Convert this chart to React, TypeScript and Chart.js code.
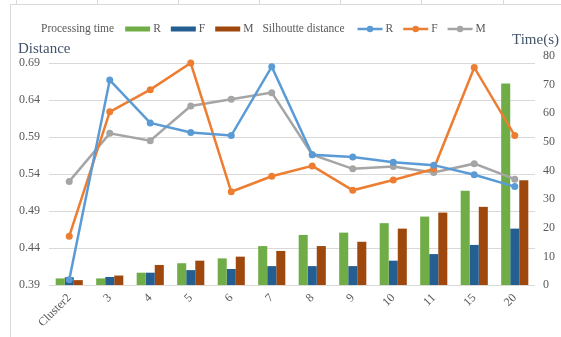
import React, { useEffect, useRef } from "react";
import { Chart, registerables } from "chart.js";

Chart.register(...registerables);

// Number of clusters on the category axis
const categories = ["Cluster2", "3", "4", "5", "6", "7", "8", "9", "10", "11", "15", "20"];

// Silhouette distance per algorithm (left axis)
const distR = [0.397, 0.667, 0.609, 0.596, 0.592, 0.685, 0.566, 0.563, 0.556, 0.552, 0.539, 0.523];
const distF = [0.456, 0.624, 0.654, 0.690, 0.516, 0.537, 0.551, 0.518, 0.532, 0.547, 0.684, 0.592];
const distM = [0.530, 0.595, 0.585, 0.632, 0.641, 0.650, 0.566, 0.547, 0.550, 0.542, 0.554, 0.533];

// Processing time in seconds per algorithm (right axis)
const timeR = [2.3, 2.3, 4.3, 7.6, 9.3, 13.6, 17.5, 18.3, 21.6, 23.9, 32.9, 70.4];
const timeF = [2.7, 2.8, 4.3, 5.2, 5.6, 6.6, 6.6, 6.6, 8.5, 10.8, 14.0, 19.7];
const timeM = [1.7, 3.3, 7.0, 8.5, 9.9, 11.9, 13.6, 15.1, 19.7, 25.3, 27.3, 36.6];

// Tick labels of the distance axis
const distTicks = [0.39, 0.44, 0.49, 0.54, 0.59, 0.64, 0.69];

const GREEN = "#70AD47";
const NAVY = "#255E91";
const BROWN = "#9E480E";
const LBLUE = "#5B9BD5";
const ORANGE = "#ED7D31";
const GRAY = "#A5A5A5";
const TEXT = "#595959";
const TITLE = "#44546A";
const SERIF = "'Liberation Serif', 'Times New Roman', serif";

const W = 561;
const H = 337;

const decorations = {
  id: "decorations",
  afterDraw(chart: any) {
    const ctx: CanvasRenderingContext2D = chart.ctx;
    ctx.save();

    // outer frame
    ctx.strokeStyle = "#D9D9D9";
    ctx.lineWidth = 1;
    ctx.beginPath();
    ctx.moveTo(10.5, 337);
    ctx.lineTo(10.5, 4.5);
    ctx.lineTo(561, 4.5);
    ctx.stroke();
    ctx.beginPath();
    [16, 97, 178, 259, 340, 421, 503].forEach((x) => {
      ctx.moveTo(x + 0.5, 0);
      ctx.lineTo(x + 0.5, 4);
    });
    ctx.stroke();

    // axis titles
    ctx.fillStyle = TITLE;
    ctx.font = `15px ${SERIF}`;
    ctx.textBaseline = "alphabetic";
    ctx.textAlign = "left";
    ctx.fillText("Distance", 18, 53);
    ctx.textAlign = "right";
    ctx.fillText("Time(s)", 559, 44);

    // legend
    ctx.font = `11.5px ${SERIF}`;
    ctx.textAlign = "left";
    ctx.textBaseline = "middle";
    ctx.fillStyle = TEXT;
    const cy = 29;
    let x = 41;
    const header = (t: string, gap: number) => {
      ctx.fillStyle = TEXT;
      ctx.fillText(t, x, cy);
      x += ctx.measureText(t).width + gap;
    };
    const item = (t: string, color: string, kind: "bar" | "line") => {
      if (kind === "bar") {
        ctx.fillStyle = color;
        ctx.fillRect(x, cy - 2.5, 25, 5);
      } else {
        ctx.strokeStyle = color;
        ctx.lineWidth = 2.5;
        ctx.beginPath();
        ctx.moveTo(x, cy);
        ctx.lineTo(x + 25, cy);
        ctx.stroke();
        ctx.fillStyle = color;
        ctx.beginPath();
        ctx.arc(x + 12.5, cy, 3.2, 0, Math.PI * 2);
        ctx.fill();
      }
      x += 28;
      ctx.fillStyle = TEXT;
      ctx.fillText(t, x, cy);
      x += ctx.measureText(t).width + 10;
    };
    header("Processing time", 11);
    item("R", GREEN, "bar");
    item("F", NAVY, "bar");
    item("M", BROWN, "bar");
    x -= 1;
    header("Silhoutte distance", 13);
    item("R", LBLUE, "line");
    item("F", ORANGE, "line");
    item("M", GRAY, "line");

    ctx.restore();
  },
};

export default function App() {
  const ref = useRef<HTMLCanvasElement | null>(null);

  useEffect(() => {
    if (!ref.current) return;
    const lineDs = (label: string, data: number[], color: string) => ({
      type: "line" as const,
      label,
      data,
      yAxisID: "yDist",
      borderColor: color,
      backgroundColor: color,
      borderWidth: 2.5,
      pointRadius: 3.5,
      pointBorderWidth: 0,
      pointBackgroundColor: color,
      tension: 0,
      order: 0,
    });
    const barDs = (label: string, data: number[], color: string) => ({
      type: "bar" as const,
      label,
      data,
      yAxisID: "yTime",
      backgroundColor: color,
      borderWidth: 0,
      barPercentage: 1,
      categoryPercentage: 0.67,
      order: 1,
    });

    const chart = new Chart(ref.current, {
      type: "bar",
      data: {
        labels: categories,
        datasets: [
          barDs("R", timeR, GREEN),
          barDs("F", timeF, NAVY),
          barDs("M", timeM, BROWN),
          lineDs("R", distR, LBLUE),
          lineDs("F", distF, ORANGE),
          lineDs("M", distM, GRAY),
        ] as any,
      },
      options: {
        responsive: false,
        animation: false,
        devicePixelRatio: 1,
        layout: { padding: { top: 56, left: 0, right: 0, bottom: 0 } },
        plugins: {
          legend: { display: false },
          title: { display: false },
          tooltip: { enabled: false },
        },
        scales: {
          x: {
            grid: { display: false, drawTicks: false },
            border: { display: false },
            ticks: {
              autoSkip: false,
              minRotation: 45,
              maxRotation: 45,
              padding: 6,
              color: TEXT,
              font: { family: SERIF, size: 12 },
            },
            afterFit: (s: any) => {
              s.height = 52;
            },
          },
          yDist: {
            type: "linear",
            position: "left",
            min: 0.39,
            max: 0.6995,
            afterBuildTicks: (s: any) => {
              s.ticks = distTicks.map((v) => ({ value: v }));
            },
            ticks: {
              padding: 9,
              color: TEXT,
              font: { family: SERIF, size: 12 },
              callback: (v: any) => Number(v).toFixed(2),
            },
            grid: { color: "#D9D9D9", lineWidth: 1, drawTicks: false },
            border: { display: false },
            afterFit: (s: any) => {
              s.width = 49;
            },
          },
          yTime: {
            type: "linear",
            position: "right",
            min: 0,
            max: 80,
            ticks: {
              stepSize: 10,
              padding: 8,
              color: TEXT,
              font: { family: SERIF, size: 12 },
            },
            grid: { display: false, drawTicks: false },
            border: { display: false },
            afterFit: (s: any) => {
              s.width = 26;
            },
          },
        },
      },
      plugins: [decorations],
    });
    return () => chart.destroy();
  }, []);

  return (
    <div style={{ position: "fixed", left: 0, top: 0, width: W, height: H, background: "#fff" }}>
      <canvas ref={ref} width={W} height={H} style={{ display: "block" }} />
    </div>
  );
}
